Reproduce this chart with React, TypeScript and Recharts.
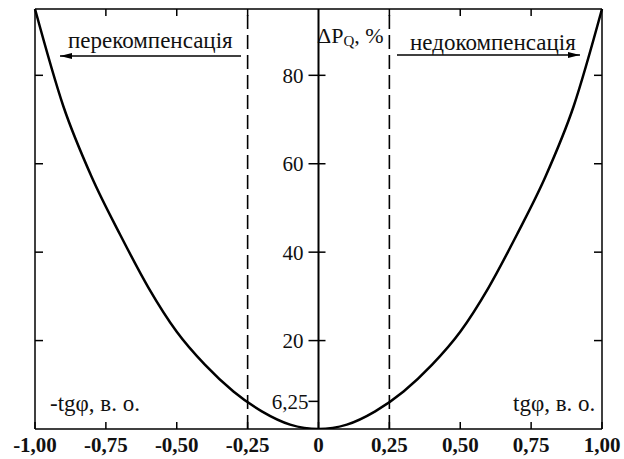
import { Line, LineChart, ReferenceLine, XAxis, YAxis } from 'recharts';

// tgφ values along the curve and the losses ΔPQ, %
const tgValues = [-1, -0.9, -0.8, -0.7, -0.6, -0.5, -0.4, -0.3, -0.2, -0.1, 0, 0.1, 0.2, 0.3, 0.4, 0.5, 0.6, 0.7, 0.8, 0.9, 1];
const lossValues = [95, 73, 57, 44, 32, 22, 14.5, 8.5, 4, 1, 0, 1, 4, 8.5, 14.5, 22, 32, 44, 57, 73, 95];

const xTicks = [-1, -0.75, -0.5, -0.25, 0, 0.25, 0.5, 0.75, 1];
const topTicks = [-0.75, -0.5, -0.25, 0.25, 0.5, 0.75];
const frameTicks = [20, 40, 60, 80];
const centerTicks = [6.25, 20, 40, 60, 80];
const boundaryTg = [-0.25, 0.25];

const data = tgValues.map((x, i) => ({ x, y: lossValues[i] }));

const W = 624;
const H = 459;
const margin = { top: 9, right: 22, bottom: 0, left: 35 };
const CX = margin.left + (W - margin.left - margin.right) / 2;
const FONT = 'Liberation Serif';
const axisStroke = { stroke: '#000', strokeWidth: 1.5 };

const fmtX = (v: number) => (v === 0 ? '0' : v.toFixed(2).replace('.', ','));
const fmtY = (v: number) => String(v).replace('.', ',');

function CenterTick(props: any) {
  const { y, payload } = props;
  const small = payload.value === 6.25;
  return (
    <g>
      <line x1={CX - 10} x2={small ? CX : CX + 7} y1={y} y2={y} stroke="#000" strokeWidth={1.5} />
      <text
        x={small ? CX - 10 : CX - 15}
        y={y}
        dy="0.35em"
        textAnchor="end"
        fill="#111"
        fontFamily={FONT}
        fontSize={21}
      >
        {fmtY(payload.value)}
      </text>
    </g>
  );
}

function Notes() {
  return (
    <g fill="#111" fontFamily={FONT} fontSize={23}>
      <text x={68} y={48}>перекомпенсація</text>
      <line x1={60} x2={241} y1={56} y2={56} stroke="#000" strokeWidth={1.5} />
      <path d="M60,56 L72,53 L72,59 Z" fill="#000" />
      <text x={410} y={50}>недокомпенсація</text>
      <line x1={397} x2={580} y1={55} y2={55} stroke="#000" strokeWidth={1.5} />
      <path d="M580,55 L568,52 L568,58 Z" fill="#000" />
      <text x={317} y={43} fontSize={22}>
        ΔP<tspan fontSize={15} dy={3}>Q</tspan>
        <tspan dy={-3}>, %</tspan>
      </text>
      <text x={50} y={411}>-tgφ, в. о.</text>
      <text x={513} y={411}>tgφ, в. о.</text>
    </g>
  );
}

export default function App() {
  return (
    <div style={{ position: 'absolute', left: 0, top: 0, background: '#fff', fontFamily: FONT }}>
      <LineChart width={W} height={H} data={data} margin={margin} style={{ fontFamily: FONT }}>
        <XAxis
          type="number"
          dataKey="x"
          domain={[-1, 1]}
          ticks={xTicks}
          tickFormatter={fmtX}
          height={30}
          tickSize={-7}
          tickMargin={15}
          axisLine={axisStroke}
          tickLine={axisStroke}
          tick={{ fill: '#111', fontSize: 21, fontWeight: 'bold', fontFamily: FONT }}
          interval={0}
        />
        <XAxis
          xAxisId="top"
          orientation="top"
          type="number"
          dataKey="x"
          domain={[-1, 1]}
          ticks={topTicks}
          tickFormatter={() => ''}
          height={1}
          mirror
          tickSize={7}
          axisLine={axisStroke}
          tickLine={axisStroke}
        />
        <YAxis
          type="number"
          domain={[0, 95]}
          allowDataOverflow
          ticks={frameTicks}
          tickFormatter={() => ''}
          width={1}
          mirror
          tickSize={8}
          axisLine={axisStroke}
          tickLine={axisStroke}
        />
        <YAxis
          yAxisId="r"
          orientation="right"
          type="number"
          domain={[0, 95]}
          allowDataOverflow
          ticks={frameTicks}
          tickFormatter={() => ''}
          width={1}
          mirror
          tickSize={8}
          axisLine={axisStroke}
          tickLine={axisStroke}
        />
        <YAxis
          yAxisId="c"
          type="number"
          domain={[0, 95]}
          allowDataOverflow
          ticks={centerTicks}
          width={1}
          mirror
          axisLine={false}
          tickLine={false}
          tick={(p: any) => <CenterTick {...p} />}
          interval={0}
        />
        {boundaryTg.map((v) => (
          <ReferenceLine key={v} x={v} stroke="#000" strokeWidth={1.6} strokeDasharray="14 6" />
        ))}
        <ReferenceLine x={0} stroke="#000" strokeWidth={2} />
        <Line type="monotone" dataKey="y" stroke="#000" strokeWidth={2.5} dot={false} isAnimationActive={false} />
        <Notes />
      </LineChart>
    </div>
  );
}
